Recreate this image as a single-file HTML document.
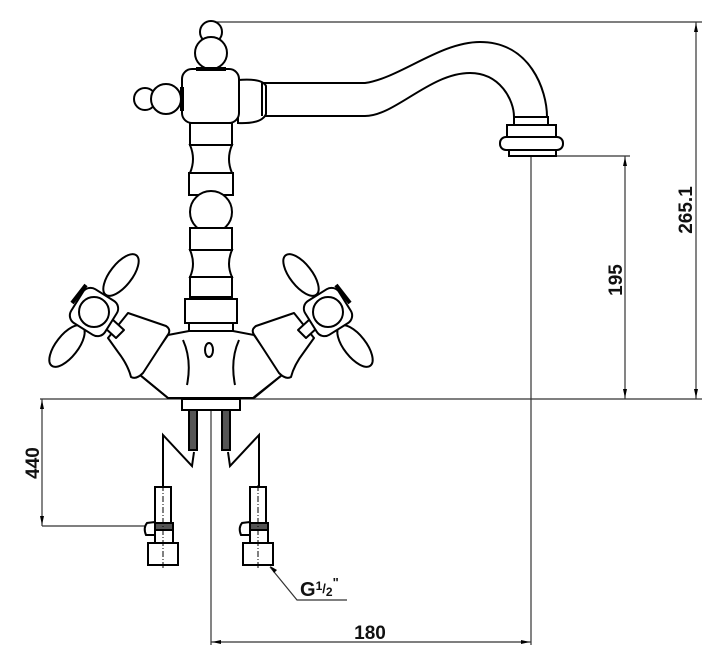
<!DOCTYPE html>
<html><head><meta charset="utf-8"><style>
html,body{margin:0;padding:0;background:#fff;}
svg{display:block;}
text{font-family:"Liberation Sans",sans-serif;font-weight:bold;fill:#111;}
</style></head><body>
<svg width="720" height="669" viewBox="0 0 720 669" xmlns="http://www.w3.org/2000/svg">
<defs>
<g id="valve" fill="#fff" stroke="#000" stroke-width="2" stroke-linejoin="round">
  <path d="M140,375 L168,398" fill="none"/>
  <path d="M108,338 L128,313 L166,326 Q172,330 167,336 L143,373 Q136,380 131,377 Q128,365 118,352 Z"/>
  <path d="M104,327 L112,319 L124,330 L116,338 Z"/>
  <ellipse cx="121" cy="275" rx="25" ry="11" transform="rotate(-52 121 275)"/>
  <ellipse cx="67" cy="346" rx="25" ry="11" transform="rotate(-52 67 346)"/>
  <rect x="74" y="292" width="40" height="40" rx="9" transform="rotate(32 94 312)"/>
  <path d="M72,303 L86,285" stroke-width="4" fill="none"/>
  <circle cx="94" cy="312" r="15"/>
</g>
<g id="fit" fill="#fff" stroke="#000" stroke-width="2">
  <rect x="155" y="487" width="16" height="36"/>
  <rect x="153" y="523" width="20" height="7" fill="#555"/>
  <rect x="155" y="530" width="18" height="13"/>
  <rect x="148" y="543" width="30" height="22"/>
  <path d="M155,522 L147,523 Q143,528 146,535 L155,535 Z"/>
  <line x1="163" y1="485" x2="163" y2="570" stroke-width="1" stroke-dasharray="6,2,1,2"/>
</g>
</defs>

<g stroke="#333" stroke-width="1.2" fill="none">
  <line x1="215" y1="22" x2="702" y2="22"/>
  <line x1="696" y1="22" x2="696" y2="399"/>
  <line x1="40" y1="399" x2="702" y2="399"/>
  <line x1="556" y1="156" x2="630" y2="156"/>
  <line x1="625" y1="156" x2="625" y2="399"/>
  <line x1="531" y1="156" x2="531" y2="645"/>
  <line x1="211" y1="410" x2="211" y2="645"/>
  <line x1="211" y1="642" x2="531" y2="642"/>
  <line x1="42" y1="399" x2="42" y2="526"/>
  <line x1="42" y1="526" x2="148" y2="526"/>
  <path d="M270,567 L297,600 L347,600"/>
</g>
<g fill="#000">
  <path d="M696,23 l-2,9 h4z M696,398 l-2,-9 h4z"/>
  <path d="M625,157 l-2,9 h4z M625,398 l-2,-9 h4z"/>
  <path d="M42,400 l-2,9 h4z M42,525 l-2,-9 h4z"/>
  <path d="M212,642 l9,-2 v4z M530,642 l-9,-2 v4z"/>
  <path d="M270,566 l4,7 l3,-3z"/>
</g>

<g fill="#fff" stroke="#000" stroke-width="2">
  <path d="M262,83 L365,83 C400,78 440,42 480,42 C530,42 547,90 547,117 L514,117 C514,100 500,73 470,73 C430,73 395,116 365,116 L262,116 Z"/>
  <rect x="514" y="117" width="34" height="8"/>
  <rect x="507" y="125" width="49" height="12"/>
  <rect x="500" y="137" width="63" height="13" rx="6"/>
  <rect x="509" y="150" width="47" height="6"/>
  <path d="M238,80 Q262,78 266,86 L266,114 Q262,124 238,123 Z"/>
  <line x1="262" y1="83" x2="262" y2="116"/>
  <circle cx="211" cy="32" r="11"/>
  <circle cx="211" cy="53" r="16"/>
  <circle cx="145" cy="99" r="11"/>
  <circle cx="166" cy="99" r="15"/>
  <rect x="182" y="69" width="57" height="54" rx="10"/>
  <line x1="182" y1="87" x2="182" y2="111" stroke-width="4"/>
  <line x1="196" y1="69" x2="226" y2="69" stroke-width="4"/>
  <rect x="190" y="123" width="42" height="22"/>
  <path d="M190,145 Q196,159 190,173 L232,173 Q226,159 232,145 Z"/>
  <rect x="189" y="173" width="44" height="22"/>
  <circle cx="211" cy="212" r="21"/>
  <rect x="190" y="228" width="42" height="22"/>
  <path d="M190,250 Q196,264 190,277 L232,277 Q226,264 232,250 Z"/>
  <rect x="190" y="277" width="42" height="20"/>
  <rect x="185" y="299" width="52" height="24"/>
  <rect x="189" y="323" width="44" height="9"/>
  <path d="M168,335 L189,331 L233,331 L254,335 L282,375 L253,398 L168,398 L140,375 Z"/>
  <path d="M183,340 Q192,360 187,385 M239,340 Q230,360 235,385" fill="none"/>
  <ellipse cx="209" cy="350" rx="4" ry="7"/>
  <rect x="182" y="399" width="58" height="11"/>
</g>
<use href="#valve"/>
<use href="#valve" transform="translate(422 0) scale(-1 1)"/>

<g stroke="#000" stroke-width="2" fill="none">
  <rect x="189" y="410" width="8" height="40" fill="#555"/>
  <rect x="222" y="410" width="8" height="40" fill="#555"/>
  <path d="M163,487 L163,435 L192,466 L194,452"/>
  <path d="M259,487 L259,435 L230,466 L228,452"/>
</g>
<use href="#fit"/>
<use href="#fit" transform="translate(95 0)"/>

<text x="0" y="0" font-size="19" transform="translate(692 210) rotate(-90)" text-anchor="middle">265.1</text>
<text x="0" y="0" font-size="19" transform="translate(622 280) rotate(-90)" text-anchor="middle">195</text>
<text x="0" y="0" font-size="19" transform="translate(39 463) rotate(-90)" text-anchor="middle">440</text>
<text x="370" y="639" font-size="19" text-anchor="middle">180</text>
<text x="300" y="596" font-size="20">G<tspan font-size="12" dy="-6">1</tspan><tspan font-size="13" dy="3">/</tspan><tspan font-size="12" dy="3">2</tspan><tspan font-size="13" dy="-9">"</tspan></text>
</svg>
</body></html>
